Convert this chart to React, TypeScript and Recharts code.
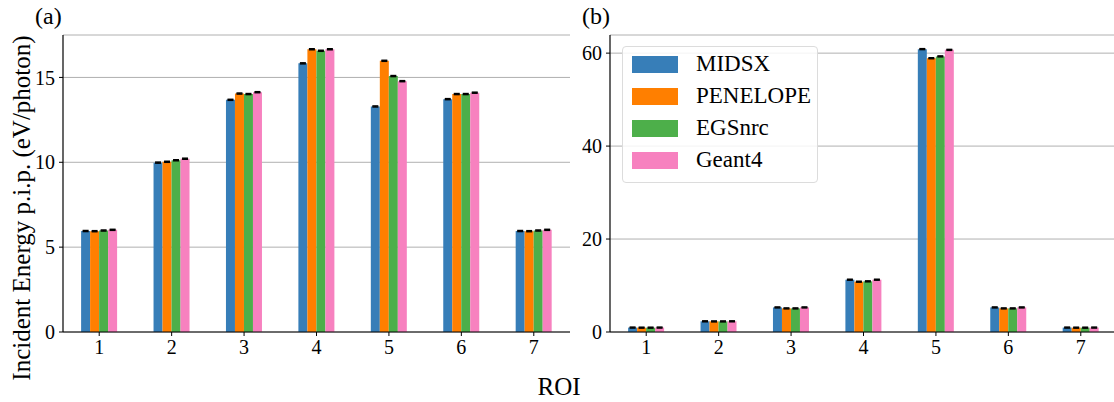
import React from 'react';
import { BarChart, Bar, XAxis, YAxis, CartesianGrid, ErrorBar } from 'recharts';

const categories = ['1', '2', '3', '4', '5', '6', '7'];
const seriesNames = ['MIDSX', 'PENELOPE', 'EGSnrc', 'Geant4'];
const seriesColors = ['#377eb8', '#ff7f00', '#4daf4a', '#f781bf'];

// Panel (a): incident energy p.i.p. (eV/photon)
const aMIDSX = [5.95, 9.98, 13.68, 15.83, 13.29, 13.72, 5.95];
const aPENELOPE = [5.94, 10.03, 14.05, 16.66, 15.98, 14.02, 5.94];
const aEGSnrc = [5.98, 10.12, 14.02, 16.57, 15.08, 14.02, 5.98];
const aGeant4 = [6.02, 10.21, 14.13, 16.66, 14.78, 14.1, 6.02];
const aErrors = [0.03, 0.03, 0.03, 0.03, 0.03, 0.03, 0.03];
const aTicks = [0, 5, 10, 15];

// Panel (b)
const bMIDSX = [0.95, 2.3, 5.29, 11.25, 60.86, 5.29, 0.95];
const bPENELOPE = [0.93, 2.28, 5.08, 10.82, 58.9, 5.08, 0.93];
const bEGSnrc = [0.93, 2.28, 5.08, 10.9, 59.3, 5.08, 0.93];
const bGeant4 = [0.95, 2.3, 5.29, 11.25, 60.7, 5.29, 0.95];
const bErrors = [0.1, 0.1, 0.1, 0.1, 0.1, 0.1, 0.1];
const bTicks = [0, 20, 40, 60];

const yLabel = 'Incident Energy p.i.p. (eV/photon)';
const xLabel = 'ROI';

const FONT = '"Liberation Serif", "DejaVu Serif", serif';

function buildRows(s: number[][], err: number[]) {
  return categories.map((c, i) => ({
    roi: c,
    s0: s[0][i], s1: s[1][i], s2: s[2][i], s3: s[3][i],
    e: err[i],
  }));
}

const aData = buildRows([aMIDSX, aPENELOPE, aEGSnrc, aGeant4], aErrors);
const bData = buildRows([bMIDSX, bPENELOPE, bEGSnrc, bGeant4], bErrors);

const tickStyle = { fontSize: 20, fill: '#000', fontFamily: FONT };

function LegendBox() {
  return (
    <div
      style={{
        position: 'absolute',
        left: 622,
        top: 46,
        width: 196,
        height: 137,
        boxSizing: 'border-box',
        border: '1px solid #dcdcdc',
        borderRadius: 4,
        background: 'rgba(255,255,255,0.85)',
        paddingTop: 1,
        paddingLeft: 9,
        fontFamily: FONT,
        fontSize: 23,
        color: '#000',
      }}
    >
      {seriesNames.map((n, i) => (
        <div key={n} style={{ display: 'flex', alignItems: 'center', height: 32 }}>
          <div style={{ width: 46, height: 17, background: seriesColors[i], marginRight: 18 }} />
          <span style={{ lineHeight: '32px' }}>{n}</span>
        </div>
      ))}
    </div>
  );
}

function Panel({ data, max, ticks }: { data: any[]; max: number; ticks: number[] }) {
  return (
    <BarChart
      width={575}
      height={402}
      data={data}
      margin={{ top: 35, right: 5, bottom: 0, left: 3 }}
      barCategoryGap="25%"
      barGap={0}
    >
      <CartesianGrid vertical={false} horizontal stroke="#b0b0b0" strokeWidth={1} />
      <XAxis
        dataKey="roi"
        height={70}
        tick={tickStyle}
        tickSize={4}
        tickMargin={4}
        axisLine={{ stroke: '#000', strokeWidth: 1.2 }}
        tickLine={{ stroke: '#000' }}
        interval={0}
      />
      <XAxis xAxisId="top" dataKey="roi" orientation="top" height={0} tick={false} tickLine={false} axisLine={{ stroke: '#808080', strokeWidth: 1.5 }} />
      <YAxis
        width={60}
        domain={[0, max]}
        ticks={ticks}
        allowDataOverflow
        tick={tickStyle}
        tickSize={4}
        tickMargin={4}
        axisLine={{ stroke: '#000', strokeWidth: 1.2 }}
        tickLine={{ stroke: '#000' }}
      />
      <YAxis yAxisId="right" orientation="right" width={0} domain={[0, max]} tick={false} tickLine={false} axisLine={{ stroke: '#808080', strokeWidth: 1.5 }} />
      {['s0', 's1', 's2', 's3'].map((k, i) => (
        <Bar key={k} dataKey={k} fill={seriesColors[i]} isAnimationActive={false}>
          <ErrorBar dataKey="e" width={3} stroke="#000" strokeWidth={1.5} direction="y" />
        </Bar>
      ))}
    </BarChart>
  );
}

export default function App() {
  return (
    <div style={{ position: 'absolute', left: 0, top: 0, width: 1114, height: 402, overflow: 'hidden', background: '#fff', fontFamily: FONT }}>
      <div style={{ position: 'absolute', left: 0, top: 0 }}>
        <Panel data={aData} max={17.5} ticks={aTicks} />
      </div>
      <div style={{ position: 'absolute', left: 547, top: 0 }}>
        <Panel data={bData} max={63.9} ticks={bTicks} />
      </div>
      <LegendBox />
      <div style={{ position: 'absolute', left: 35, top: 1, fontSize: 24, lineHeight: '30px' }}>(a)</div>
      <div style={{ position: 'absolute', left: 582, top: 1, fontSize: 24, lineHeight: '30px' }}>(b)</div>
      <div
        style={{
          position: 'absolute',
          left: 22,
          top: 208,
          fontSize: 25,
          whiteSpace: 'nowrap',
          transform: 'translate(-50%, -50%) rotate(-90deg)',
          lineHeight: '28px',
        }}
      >
        {yLabel}
      </div>
      <div style={{ position: 'absolute', left: 559, top: 387, fontSize: 25, transform: 'translate(-50%, -50%)', lineHeight: '28px' }}>
        {xLabel}
      </div>
    </div>
  );
}
